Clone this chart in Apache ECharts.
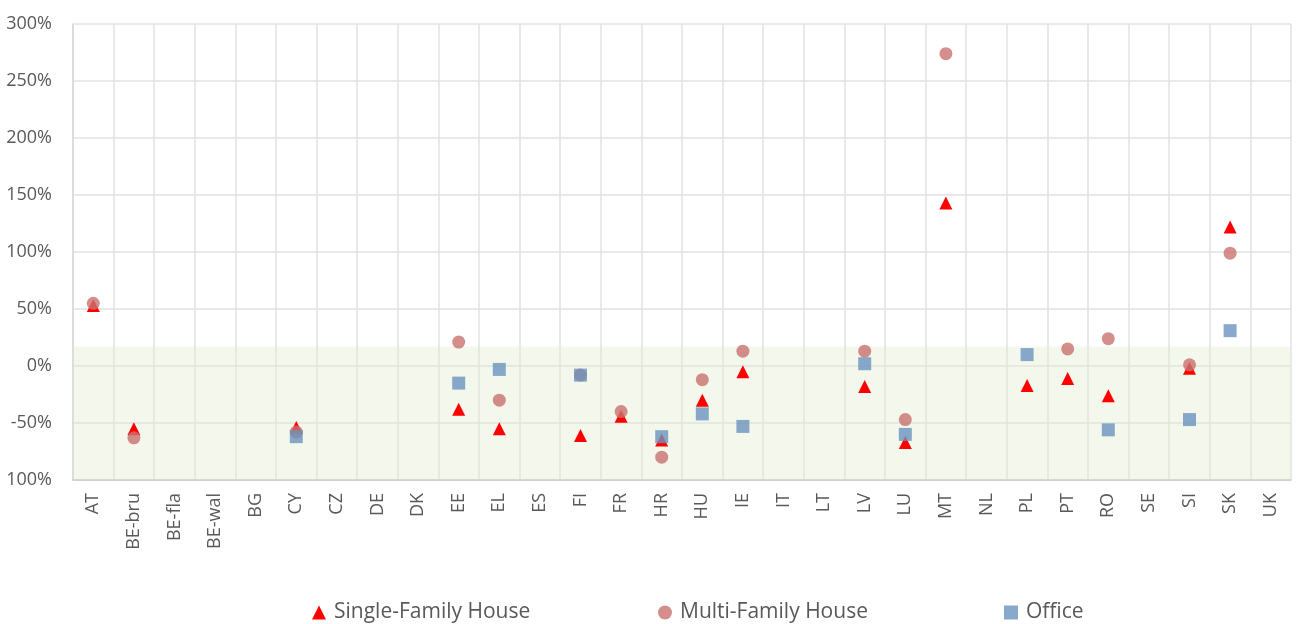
<!DOCTYPE html>
<html>
<head>
<meta charset="utf-8">
<script src="https://cdn.jsdelivr.net/npm/echarts@6/dist/echarts.min.js"></script>
<style>html,body{margin:0;padding:0;background:#fff;}#c{width:1298px;height:624px;}</style>
</head>
<body>
<div id="c"></div>
<script>
const categories = ['AT','BE-bru','BE-fla','BE-wal','BG','CY','CZ','DE','DK','EE','EL','ES','FI','FR','HR','HU','IE','IT','LT','LV','LU','MT','NL','PL','PT','RO','SE','SI','SK','UK'];
const singleFamily = [53,-55,null,null,null,-54,null,null,null,-38,-55,null,-61,-44,-65,-30,-5,null,null,-18,-67,143,null,-17,-11,-26,null,-2,122,null];
const multiFamily  = [55,-63,null,null,null,-58,null,null,null,21,-30,null,-8,-40,-80,-12,13,null,null,13,-47,274,null,null,15,24,null,1,99,null];
const office       = [null,null,null,null,null,-62,null,null,null,-15,-3,null,-8,null,-62,-42,-53,null,null,2,-60,null,null,10,null,-56,null,-47,31,null];
const yTickValues = [-100,-50,0,50,100,150,200,250,300];
const yTickLabels = ['100%','-50%','0%','50%','100%','150%','200%','250%','300%'];
const bandRange = [-100, 17];
const seriesNames = ['Single-Family House','Multi-Family House','Office'];

const chart = echarts.init(document.getElementById('c'));
const txt = '#595959';
chart.setOption({
  animation: false,
  grid: {left: 73, right: 7, top: 24, bottom: 144},
  xAxis: {
    type: 'category', data: categories, boundaryGap: true,
    axisLine: {show: true, onZero: false, lineStyle: {color: '#c9c9c9', width: 1.5}},
    axisTick: {show: false},
    axisLabel: {rotate: 90, margin: 13, color: txt, fontFamily: 'Open Sans', fontSize: 18, interval: 0},
    splitLine: {show: true, interval: 0, lineStyle: {color: '#e2e2e2', width: 1.5}}
  },
  yAxis: {
    type: 'value', min: -100, max: 300, interval: 50,
    axisLine: {show: true, lineStyle: {color: '#d9d9d9', width: 1.5}},
    axisTick: {show: false},
    axisLabel: {color: txt, fontFamily: 'Open Sans', fontSize: 18, margin: 21,
      formatter: v => yTickLabels[yTickValues.indexOf(v)]},
    splitLine: {lineStyle: {color: '#e2e2e2', width: 1.5}}
  },
  legend: [
    {data: [seriesNames[0]], left: 307, top: 597, itemWidth: 14, itemHeight: 14,
     textStyle: {color: txt, fontFamily: 'Open Sans', fontSize: 21, padding: [0,0,0,3]}},
    {data: [seriesNames[1]], left: 653, top: 597, itemWidth: 14, itemHeight: 14,
     textStyle: {color: txt, fontFamily: 'Open Sans', fontSize: 21, padding: [0,0,0,3]}},
    {data: [seriesNames[2]], left: 999, top: 597, itemWidth: 14, itemHeight: 14,
     textStyle: {color: txt, fontFamily: 'Open Sans', fontSize: 21, padding: [0,0,0,3]}}
  ],
  series: [
    {name: seriesNames[0], type: 'scatter', symbol: 'triangle', symbolSize: 13,
     itemStyle: {color: '#ff0000', opacity: 1}, data: singleFamily, z: 3,
     markArea: {silent: true, itemStyle: {color: 'rgba(220,232,200,0.35)'},
       data: [[{yAxis: bandRange[0]}, {yAxis: bandRange[1]}]]}},
    {name: seriesNames[1], type: 'scatter', symbol: 'circle', symbolSize: 13,
     itemStyle: {color: '#c9726e', opacity: 0.8}, data: multiFamily, z: 4},
    {name: seriesNames[2], type: 'scatter', symbol: 'rect', symbolSize: 13,
     itemStyle: {color: '#6b93bf', opacity: 0.8}, data: office, z: 5}
  ]
});
</script>
</body>
</html>
